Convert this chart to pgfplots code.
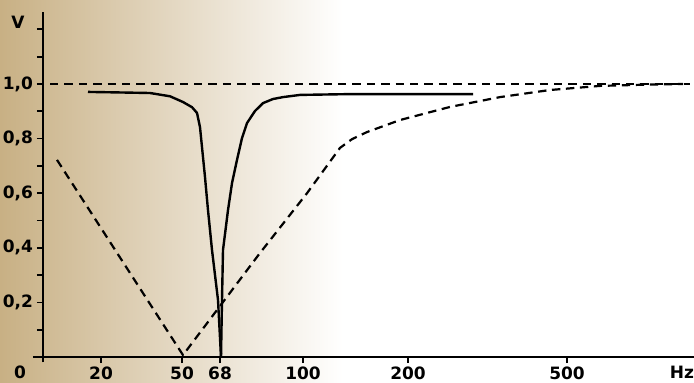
\documentclass[border=0pt]{standalone}
\usepackage{pgfplots}
\pgfplotsset{compat=1.18}
\usepackage{fontspec}
\setmainfont{DejaVu Sans}
\usetikzlibrary{backgrounds}
\definecolor{paper}{RGB}{200,176,132}
\definecolor{papermid}{RGB}{218,202,168}
\begin{document}
\begin{tikzpicture}
\begin{axis}[
  x=0.5pt, y=136.5pt,
  xmin=-10, xmax=651, ymin=-0.02, ymax=1.264,
  axis lines=middle,
  axis line style={-, line width=1pt, black},
  clip=false,
  xtick={58,139,177,260,365,524},
  xticklabels={20,50,68,100,200,500},
  ytick={0.2,0.4,0.6,0.8,1.0,1.2},
  yticklabels={{0,2},{0,4},{0,6},{0,8},{1,0},{}},
  minor ytick={0.1,0.3,0.5,0.7,0.9,1.1},
  tick align=outside,
  major tick length=3pt, minor tick length=3pt,
  tick style={line width=0.9pt, black},
  xticklabel style={font=\fontsize{8.5}{10}\selectfont\bfseries, yshift=1.5pt},
  yticklabel style={font=\fontsize{8.5}{10}\selectfont\bfseries, xshift=1.5pt},
]
\coordinate (bl) at (axis cs:-43,-0.0916);
\coordinate (tr) at (axis cs:651,1.3077);
\coordinate (tm) at (axis cs:300,1.3077);
% horizontal dashed reference line
\addplot[black, line width=1.1pt, dash pattern=on 4.2pt off 3pt] coordinates {(7,1.0) (647,1.0)};
% solid notch curve
\addplot[black, line width=1.2pt] coordinates {
(45,0.971) (77,0.969) (107,0.967) (127,0.955) (140,0.934) (149,0.915) (154,0.894)
(157,0.842) (162,0.659) (165,0.538) (169,0.392) (175,0.209) (178,0.0)};
\addplot[black, line width=1.2pt] coordinates {
(178,0.0) (179,0.209) (180,0.392) (185,0.538) (189,0.637) (194,0.722) (199,0.802)
(204,0.857) (212,0.901) (220,0.930) (230,0.945) (240,0.952) (257,0.960) (307,0.963) (430,0.963)};
% dashed V curve
\addplot[black, line width=1.1pt, dash pattern=on 4.2pt off 2.8pt] coordinates {
(14,0.722) (140,0.007) (217,0.381) (264,0.600) (297,0.766) (309,0.798) (324,0.824)
(357,0.868) (407,0.916) (457,0.952) (507,0.978) (557,0.993) (607,0.998) (640,1.0)};
\node[font=\fontsize{8.5}{10}\selectfont\bfseries, inner sep=1pt] at (axis cs:-25,1.225) {V};
\node[font=\fontsize{8.5}{10}\selectfont\bfseries, inner sep=1pt] at (axis cs:-23,-0.055) {0};
\node[font=\fontsize{8.5}{10}\selectfont\bfseries, inner sep=1pt] at (axis cs:639,-0.055) {Hz};
\end{axis}
\begin{scope}[on background layer]
\fill[white] (bl) rectangle (tr);
\shade[left color=paper, middle color=papermid, right color=white] (bl) rectangle (tm);
\end{scope}
\pgfresetboundingbox
\path[use as bounding box] (bl) rectangle (tr);
\end{tikzpicture}
\end{document}
